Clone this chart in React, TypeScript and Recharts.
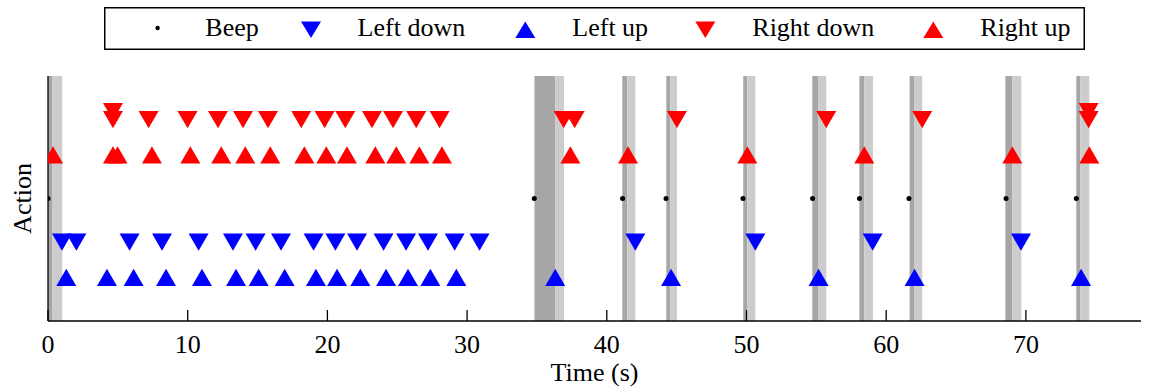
import React from 'react';
import { Label, Legend, ReferenceArea, Scatter, ScatterChart, XAxis, YAxis } from 'recharts';

// event times in seconds
const beepT = [0, 34.81, 41.13, 44.24, 49.75, 54.73, 58.09, 61.63, 68.58, 73.61];
const leftDownT = [
    1.0, 2.03, 5.84, 8.16, 10.78, 13.24, 14.86, 16.68, 19.01, 20.57, 22.12, 24.02, 25.63, 27.2, 29.11, 30.89,
    42.04, 50.63, 59.03, 69.65,
];
const leftUpT = [
    1.31, 4.22, 6.13, 8.45, 11.02, 13.46, 15.08, 16.94, 19.18, 20.69, 22.36, 24.2, 25.77, 27.37, 29.23,
    36.31, 44.6, 55.16, 62.03, 73.95,
];
const rightDownT = [
    4.65, 7.2, 9.99, 12.17, 13.96, 15.75, 18.13, 19.8, 21.28, 23.19, 24.7, 26.36, 28.03,
    36.91, 37.7, 45.02, 55.71, 62.58, 74.49,
];
// repeated presses drawn slightly above the row
const rightDownRepeatT = [4.65, 74.49];
const rightUpT = [
    0.36, 4.65, 4.98, 7.44, 10.19, 12.4, 14.12, 15.91, 18.35, 19.92, 21.4, 23.43, 24.93, 26.58, 28.2,
    37.39, 41.52, 50.06, 58.43, 69.03, 74.54,
];

// shaded intervals: dark from start to mid, light from mid to end
const bandStart = [0, 34.82, 41.11, 44.26, 49.77, 54.71, 58.08, 61.68, 68.53, 73.61];
const bandMid = [0.29, 36.32, 41.47, 44.55, 50.06, 55.12, 58.43, 62.03, 69.03, 73.9];
const bandEnd = [1.02, 36.94, 42.04, 45.02, 50.63, 55.71, 59.06, 62.58, 69.67, 74.54];

const xTicks = [0, 10, 20, 30, 40, 50, 60, 70];

const FONT = '"Liberation Serif", "Times New Roman", serif';
const RED = '#ff0000';
const BLUE = '#0000ff';
const SIDE = 20;
const H = 17.3;

const toPts = (ts: number[], y: number) => ts.map((t) => ({ t, y }));

const beepData = toPts(beepT, 0);
const leftDownData = toPts(leftDownT, -1);
const leftUpData = toPts(leftUpT, -2);
const rightDownData = [...toPts(rightDownT, 2), ...toPts(rightDownRepeatT, 2.2)];
const rightUpData = toPts(rightUpT, 1);

function triUp(color: string) {
    return (p: any) => {
        const { cx, cy } = p;
        const d = `M${cx},${cy - (2 * H) / 3} L${cx + SIDE / 2},${cy + H / 3} L${cx - SIDE / 2},${cy + H / 3} Z`;
        return <path d={d} fill={color} />;
    };
}

function triDown(color: string) {
    return (p: any) => {
        const { cx, cy } = p;
        const d = `M${cx},${cy + (2 * H) / 3} L${cx + SIDE / 2},${cy - H / 3} L${cx - SIDE / 2},${cy - H / 3} Z`;
        return <path d={d} fill={color} />;
    };
}

const dot = (p: any) => <circle cx={p.cx} cy={p.cy} r={2.5} fill="#000" />;

const legendItems = [
    { name: 'Beep', kind: 'dot', color: '#000', mx: 53.6, tx: 101.3 },
    { name: 'Left down', kind: 'down', color: BLUE, mx: 207, tx: 253.6 },
    { name: 'Left up', kind: 'up', color: BLUE, mx: 421.3, tx: 468.3 },
    { name: 'Right down', kind: 'down', color: RED, mx: 601.3, tx: 648.3 },
    { name: 'Right up', kind: 'up', color: RED, mx: 829.3, tx: 876.3 },
];

function LegendBox() {
    return (
        <svg width={981} height={43} style={{ display: 'block' }}>
            <rect x={0.75} y={0.75} width={979.5} height={41.5} fill="#fff" stroke="#000" strokeWidth={1.5} />
            {legendItems.map((it) => {
                let mark;
                if (it.kind === 'dot') {
                    mark = <circle cx={it.mx} cy={21} r={2.2} fill="#000" />;
                } else if (it.kind === 'down') {
                    mark = <path d={`M${it.mx},${31} L${it.mx + 10},${14.4} L${it.mx - 10},${14.4} Z`} fill={it.color} />;
                } else {
                    mark = <path d={`M${it.mx},${14.4} L${it.mx + 10},${31} L${it.mx - 10},${31} Z`} fill={it.color} />;
                }
                return (
                    <g key={it.name}>
                        {mark}
                        <text x={it.tx} y={29.4} fontSize={26} fontFamily={FONT} fill="#000">
                            {it.name}
                        </text>
                    </g>
                );
            })}
        </svg>
    );
}

export default function App() {
    return (
        <div style={{ position: 'absolute', left: 0, top: 0, width: 1149, height: 389, background: '#fff', fontFamily: FONT }}>
            <ScatterChart width={1149} height={389} margin={{ top: 76, right: 8, left: 0, bottom: 0 }}>
                {bandStart.map((s, i) => (
                    <ReferenceArea key={`d${i}`} x1={s} x2={bandMid[i]} fill="#a6a6a6" fillOpacity={1} stroke="none" ifOverflow="hidden" />
                ))}
                {bandStart.map((_, i) => (
                    <ReferenceArea key={`l${i}`} x1={bandMid[i]} x2={bandEnd[i]} fill="#cccccc" fillOpacity={1} stroke="none" ifOverflow="hidden" />
                ))}
                <XAxis
                    type="number"
                    dataKey="t"
                    domain={[0, 78.24]}
                    ticks={xTicks}
                    allowDataOverflow
                    height={68}
                    axisLine={{ stroke: '#000', strokeWidth: 1.3 }}
                    tickLine={{ stroke: '#000', strokeWidth: 1.3 }}
                    tickSize={-11}
                    tickMargin={25}
                    tick={{ fontSize: 26, fill: '#000', fontFamily: FONT }}
                >
                    <Label value="Time (s)" position="insideBottom" offset={8} style={{ fontSize: 26, fill: '#000', fontFamily: FONT }} />
                </XAxis>
                <YAxis
                    type="number"
                    dataKey="y"
                    domain={[-3, 3]}
                    allowDataOverflow
                    width={48}
                    tick={false}
                    tickLine={false}
                    axisLine={{ stroke: '#000', strokeWidth: 1.3 }}
                >
                    <Label
                        content={() => (
                            <text x={31} y={198.5} transform="rotate(-90 31 198.5)" textAnchor="middle" fontSize={26} fontFamily={FONT} fill="#000">
                                Action
                            </text>
                        )}
                    />
                </YAxis>
                <Legend
                    layout="vertical"
                    align="center"
                    verticalAlign="middle"
                    wrapperStyle={{ top: 7, left: 104, width: 981, height: 43 }}
                    content={() => <LegendBox />}
                />
                <Scatter name="Beep" data={beepData} shape={dot} isAnimationActive={false} />
                <Scatter name="Left down" data={leftDownData} shape={triDown(BLUE)} isAnimationActive={false} />
                <Scatter name="Left up" data={leftUpData} shape={triUp(BLUE)} isAnimationActive={false} />
                <Scatter name="Right down" data={rightDownData} shape={triDown(RED)} isAnimationActive={false} />
                <Scatter name="Right up" data={rightUpData} shape={triUp(RED)} isAnimationActive={false} />
            </ScatterChart>
        </div>
    );
}
